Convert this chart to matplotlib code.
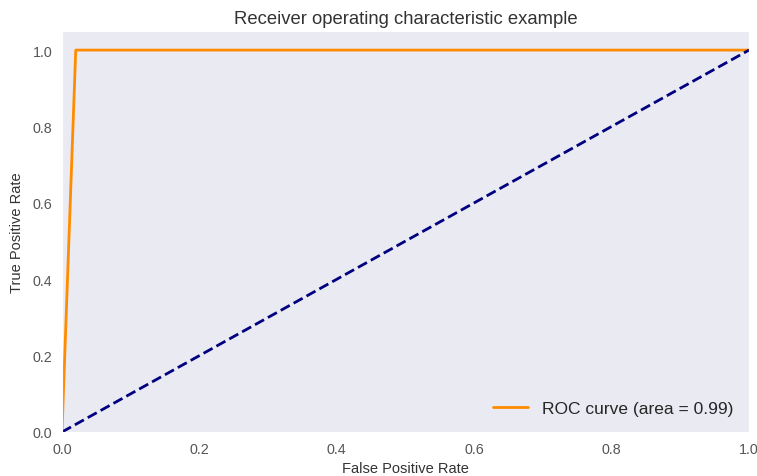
import matplotlib
matplotlib.use('Agg')
import matplotlib.pyplot as plt
import seaborn as sns

# ROC data
fpr = [0.0, 0.02, 1.0]
tpr = [0.0, 1.0, 1.0]
roc_auc = 0.99
chance_x = [0, 1]
chance_y = [0, 1]

sns.set_style('dark')
plt.rcParams['font.family'] = ['Liberation Sans', 'DejaVu Sans']

fig = plt.figure(figsize=(7.57, 4.77), dpi=100)
ax = fig.add_axes([62 / 757, 44 / 477, 687 / 757, 401 / 477])

ax.plot(fpr, tpr, color='darkorange', lw=2,
        label='ROC curve (area = %0.2f)' % roc_auc)
ax.plot(chance_x, chance_y, color='navy', lw=2, linestyle='--')
ax.set_xlim([0.0, 1.0])
ax.set_ylim([0.0, 1.05])
ax.set_xlabel('False Positive Rate', fontsize=10.5, color='#333333')
ax.set_ylabel('True Positive Rate', fontsize=10.5, color='#333333', labelpad=6)
ax.set_title('Receiver operating characteristic example', fontsize=13.3, color='#333333')
ax.tick_params(labelsize=10.3, colors='#555555')
ax.legend(loc='lower right', fontsize=12.5, frameon=False)

fig.savefig('out.png', dpi=100)
